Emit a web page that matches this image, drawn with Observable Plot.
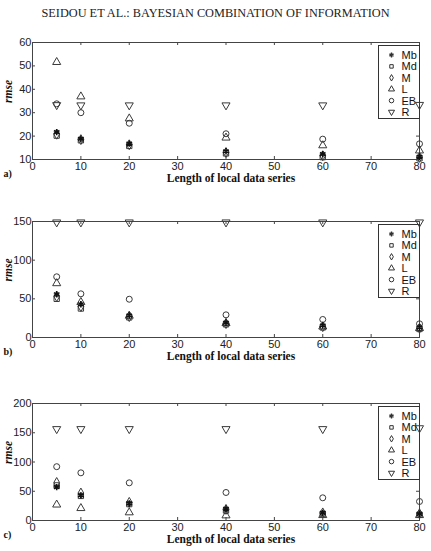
<!DOCTYPE html>
<html>
<head>
<meta charset="utf-8">
<script src="https://cdn.jsdelivr.net/npm/d3@7"></script>
<script src="https://cdn.jsdelivr.net/npm/@observablehq/plot@0.6"></script>
<style>
  body { margin: 0; background: #fff; }
  #wrap { position: relative; width: 431px; height: 551px; overflow: hidden; background: #fff; }
  #title { position: absolute; left: 0; top: 6px; width: 431px; text-align: center;
           font-family: "Liberation Serif", "Times New Roman", serif; font-size: 12.3px; color: #222; }
  .panel { position: absolute; left: 0; }
</style>
</head>
<body>
<div id="wrap">
  <div id="title">SEIDOU ET AL.: BAYESIAN COMBINATION OF INFORMATION</div>
  <div class="panel" id="pa" style="top:30px"></div>
  <div class="panel" id="pb" style="top:209px"></div>
  <div class="panel" id="pc" style="top:391px"></div>
</div>
<script>
// ---- data ----
const lengths = [5, 10, 20, 40, 60, 80];
const methods = ["Mb", "Md", "M", "L", "EB", "R"];
const xTicks = [0, 10, 20, 30, 40, 50, 60, 70, 80];
const xLabel = "Length of local data series";
const yLabel = "rmse";

// panel a)
const aTicks = [10, 20, 30, 40, 50, 60];
const aMb = [21.7, 18.8, 16.8, 13.5, 12.3, 11.2];
const aMd = [20.2, 18.2, 15.8, 12.6, 11.0, 10.5];
const aM  = [20.8, 18.5, 16.3, 13.0, 11.6, 10.9];
const aL  = [51.6, 36.9, 27.5, 19.3, 16.0, 13.8];
const aEB = [33.8, 30.0, 25.5, 21.0, 18.7, 16.7];
const aR  = [33.3, 33.2, 33.2, 33.2, 33.2, 33.4];

// panel b)
const bTicks = [0, 50, 100, 150];
const bMb = [56, 43, 28.5, 19, 15.5, 13];
const bMd = [50, 37.5, 26, 17, 13, 11];
const bM  = [53, 40, 27, 18, 14, 12];
const bL  = [70, 45.7, 28, 18.5, 14, 12];
const bEB = [78.5, 56.5, 49.5, 29.3, 23.3, 17.7];
const bR  = [149, 149, 149, 149, 149, 149];

// panel c)
const cTicks = [0, 50, 100, 150, 200];
const cMb = [57, 43, 29, 20, 13, 11];
const cMd = [60, 42, 28, 17, 11, 10];
const cM  = [65, 47, 31, 19, 13, 11.5];
const cL  = [27, 21, 13.7, 8.5, 9, 9];
const cEB = [92, 81.5, 64.4, 47.9, 38.8, 32.5];
const cR  = [156.5, 156.5, 156.5, 156.5, 156.5, 158];

// ---- symbols ----
const triangleDown = {
  draw(context, size) {
    const s3 = Math.sqrt(3);
    const y = -Math.sqrt(size / (s3 * 3));
    context.moveTo(0, -y * 2);
    context.lineTo(-s3 * y, y);
    context.lineTo(s3 * y, y);
    context.closePath();
  }
};
const symbolRange = [d3.symbolAsterisk, d3.symbolSquare, d3.symbolDiamond, d3.symbolTriangle, d3.symbolCircle, triangleDown];
const legendSizes = [16, 12, 12, 16, 16, 16];

function legendMark(index, scales, values, dims) {
  const g = d3.create("svg:g");
  const w = 41, h = 73;
  const x0 = dims.width - dims.marginRight - w + 0.5;
  const y0 = dims.marginTop + 3.5;
  g.append("rect").attr("x", x0).attr("y", y0).attr("width", w).attr("height", h)
    .attr("fill", "white").attr("stroke", "#333").attr("stroke-width", 1);
  methods.forEach((m, i) => {
    const cy = y0 + 9.5 + i * 11.4;
    g.append("path")
      .attr("transform", `translate(${x0 + 13},${cy})`)
      .attr("d", d3.symbol(symbolRange[i], legendSizes[i])())
      .attr("fill", "none").attr("stroke", "#333").attr("stroke-width", i === 0 ? 1.4 : 1);
    g.append("text").attr("x", x0 + 23).attr("y", cy).attr("dy", "0.36em")
      .attr("text-anchor", "start")
      .attr("font-family", "'Liberation Sans', Arial, sans-serif").attr("font-size", 11)
      .attr("fill", "#111").text(m);
  });
  return g.node();
}

function makePanel(el, tag, yDomain, yTicks, series, top, frameH, bottom) {
  const width = 431, ml = 32, mr = 12;
  const frameW = width - ml - mr;
  const rows = methods.flatMap((m, i) => lengths.map((x, j) => ({x, y: series[i][j], method: m})));
  const rowsMb = rows.filter(d => d.method === "Mb");
  const rowsOther = rows.filter(d => d.method !== "Mb");
  const plot = Plot.plot({
    width,
    height: top + frameH + bottom,
    marginLeft: ml, marginRight: mr, marginTop: top, marginBottom: bottom,
    style: {fontFamily: "'Liberation Sans', Arial, sans-serif", fontSize: "11px", color: "#222", background: "white", overflow: "visible"},
    x: {domain: [0, 80], ticks: xTicks, tickSize: 0, tickPadding: 3, label: null},
    y: {domain: yDomain, ticks: yTicks, tickSize: 0, tickPadding: 1, label: null},
    symbol: {domain: methods, range: symbolRange, legend: false},
    marks: [
      Plot.ruleX(xTicks, {x: d => d, insetTop: frameH - 3, stroke: "#444"}),
      Plot.ruleX(xTicks, {x: d => d, insetBottom: frameH - 3, stroke: "#444"}),
      Plot.ruleY(yTicks, {y: d => d, insetRight: frameW - 3, stroke: "#444"}),
      Plot.ruleY(yTicks, {y: d => d, insetLeft: frameW - 3, stroke: "#444"}),
      Plot.frame({stroke: "#444", strokeWidth: 1}),
      legendMark,
      Plot.dot(rowsOther, {x: "x", y: "y", symbol: "method", r: 3, stroke: "#3a3a3a", strokeWidth: 1, fill: "none"}),
      Plot.dot(rowsMb, {x: "x", y: "y", symbol: "method", r: 3, stroke: "#111", strokeWidth: 1.6, fill: "none"}),
      Plot.text([xLabel], {frameAnchor: "bottom", text: d => d, dx: 5, dy: 22,
        fontFamily: "'Liberation Serif', 'Times New Roman', serif", fontWeight: "bold", fontSize: 11.5, fill: "#111"}),
      Plot.text([tag], {frameAnchor: "bottom-left", text: d => d, textAnchor: "start", dx: -29, dy: 17,
        fontFamily: "'Liberation Serif', 'Times New Roman', serif", fontWeight: "bold", fontSize: 10, fill: "#111"}),
      Plot.text([yLabel], {frameAnchor: "left", text: d => d, rotate: -90, dx: -24, dy: 2,
        fontFamily: "'Liberation Serif', 'Times New Roman', serif", fontStyle: "italic", fontWeight: "bold", fontSize: 11.5, fill: "#111"})
    ]
  });
  document.getElementById(el).appendChild(plot);
}

makePanel("pa", "a)", [10, 60], aTicks, [aMb, aMd, aM, aL, aEB, aR], 12, 117, 30);
makePanel("pb", "b)", [0, 150], bTicks, [bMb, bMd, bM, bL, bEB, bR], 12, 116, 30);
makePanel("pc", "c)", [0, 200], cTicks, [cMb, cMd, cM, cL, cEB, cR], 12, 117, 31);
</script>
</body>
</html>
